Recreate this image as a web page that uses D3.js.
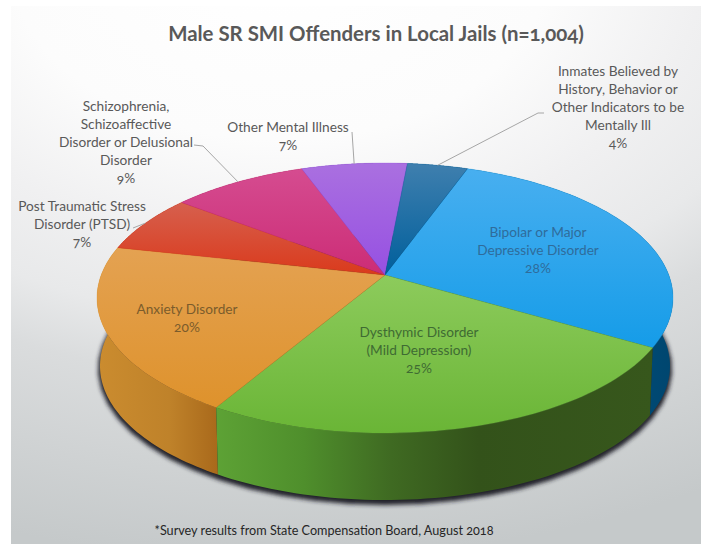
<!DOCTYPE html>
<html>
<head>
<meta charset="utf-8">
<script src="https://cdn.jsdelivr.net/npm/d3@7"></script>
<style>
  html, body { margin: 0; padding: 0; background: #fff; }
  svg { display: block; }
  text { font-family: Lato, "Open Sans", sans-serif; font-feature-settings: "onum" 1; }
</style>
</head>
<body>
<div id="chart"></div>
<script>
// Survey shares, clockwise from the first slice
const categories = [
  "Bipolar or Major Depressive Disorder",
  "Dysthymic Disorder (Mild Depression)",
  "Anxiety Disorder",
  "Post Traumatic Stress Disorder (PTSD)",
  "Schizophrenia, Schizoaffective Disorder or Delusional Disorder",
  "Other Mental Illness",
  "Inmates Believed by History, Behavior or Other Indicators to be Mentally Ill"
];
const shares = [28, 25, 20, 7, 9, 7, 4];

// Wrapped label lines, one entry per slice
const labelLines = [
  ["Bipolar or Major", "Depressive Disorder"],
  ["Dysthymic Disorder", "(Mild Depression)"],
  ["Anxiety Disorder"],
  ["Post Traumatic Stress", "Disorder (PTSD)"],
  ["Schizophrenia,", "Schizoaffective", "Disorder or Delusional", "Disorder"],
  ["Other Mental Illness"],
  ["Inmates Believed by", "History, Behavior or", "Other Indicators to be", "Mentally Ill"]
];
const titleText = "Male SR SMI Offenders in Local Jails (n=1,004)";
const footnoteText = "*Survey results from State Compensation Board, August 2018";

// Slice paint: top-face gradient ends, rim gradient stops, label colour
const faceTop = ["#48aff0", "#8dcb5c", "#e4a252", "#d6604e", "#d54c90", "#aa70e0", "#3f7fae"];
const faceBottom = ["#159ce8", "#6ab536", "#de922c", "#da3a1c", "#cc2c76", "#9650e2", "#005f9c"];
const rimStops = [
  [[0, "#005d90"], [1, "#00466f"]],
  [[0, "#5da235"], [0.2, "#4f8f2c"], [0.4, "#3f6a22"], [0.6, "#33521a"], [1, "#37571c"]],
  [[0, "#cb8c2f"], [0.6, "#bf822a"], [1, "#a9691b"]],
  [[0, "#a83018"], [1, "#a83018"]],
  [[0, "#9a2258"], [1, "#9a2258"]],
  [[0, "#7038a8"], [1, "#7038a8"]],
  [[0, "#004a78"], [1, "#004a78"]]
];
const labelInk = ["#2f6c9b", "#3f6b33", "#7b5c2c", "#595959", "#595959", "#595959", "#595959"];

const width = 701, height = 544;

// Pie outline on screen and how far the apex sits above the ellipse centre
const pieCx = 385, topCy = 298, pieRx = 288, pieRy = 135, apexLift = 23;
const baseCy = 366, baseRx = 285, baseRy = 134;
const tilt = -apexLift / pieRy;
const firstAngle = 19.7 * Math.PI / 180;

// Perspective projection of a disc point at clockwise angle a
function project(a, cy, rx, ry) {
  const u = Math.sin(a), v = -Math.cos(a);
  const lift = apexLift * ry / pieRy;
  const den = 1 + tilt * v;
  return [
    pieCx + rx * Math.sqrt(1 - tilt * tilt) * u / den,
    cy + (ry * v - lift) / den
  ];
}
const topPoint = a => project(a, topCy, pieRx, pieRy);
const basePoint = a => project(a, baseCy, baseRx, baseRy);
const apex = [pieCx, topCy - apexLift];

const slices = d3.pie().value(d => d).sort(null)
  .startAngle(firstAngle).endAngle(firstAngle + 2 * Math.PI)(shares);

const arcSteps = (s, e) => d3.range(0, 61).map(i => s + (e - s) * i / 60);
const line = d3.line();

const svg = d3.select("#chart").append("svg")
  .attr("width", width).attr("height", height);
const defs = svg.append("defs");

// Backdrop panel: bright near the top, wider than tall
const backdrop = defs.append("radialGradient").attr("id", "backdrop")
  .attr("gradientUnits", "userSpaceOnUse")
  .attr("cx", 0).attr("cy", 0).attr("r", 1)
  .attr("gradientTransform", "translate(280,-40) scale(900,600)");
[[0, "#ffffff"], [0.3, "#fcfcfc"], [0.47, "#f0f0f1"], [0.6, "#e8e9ea"], [0.7, "#dadcdd"], [1, "#c5c9ca"]]
  .forEach(([o, c]) => backdrop.append("stop").attr("offset", o).attr("stop-color", c));
svg.append("rect").attr("x", 11).attr("y", 6)
  .attr("width", width - 11).attr("height", height - 6)
  .attr("fill", "url(#backdrop)");

defs.append("filter").attr("id", "soft")
  .attr("x", "-10%").attr("y", "-10%").attr("width", "120%").attr("height", "120%")
  .append("feGaussianBlur").attr("stdDeviation", 2.2);

slices.forEach((s, i) => {
  const face = defs.append("linearGradient").attr("id", `face${i}`)
    .attr("x1", 0).attr("y1", 0).attr("x2", 0).attr("y2", 1);
  face.append("stop").attr("offset", 0).attr("stop-color", faceTop[i]);
  face.append("stop").attr("offset", 1).attr("stop-color", faceBottom[i]);
  const rim = defs.append("linearGradient").attr("id", `rim${i}`)
    .attr("x1", 0).attr("y1", 0).attr("x2", 1).attr("y2", 0);
  rimStops[i].forEach(([o, c]) => rim.append("stop").attr("offset", o).attr("stop-color", c));
});

// Soft cast shadow under the disc
svg.append("path")
  .attr("d", line(arcSteps(0, 2 * Math.PI).map(a => basePoint(a))) + "Z")
  .attr("transform", "translate(0,3)")
  .attr("fill", "#23232b")
  .attr("stroke", "#23232b").attr("stroke-width", 4)
  .attr("filter", "url(#soft)");

// Rim pieces, back to front so the near slices end on top
const rimOrder = [6, 5, 4, 3, 0, 2, 1];
svg.append("g").selectAll("path").data(rimOrder).join("path")
  .attr("d", i => {
    const pts = arcSteps(slices[i].startAngle, slices[i].endAngle);
    return line(pts.map(topPoint).concat(pts.slice().reverse().map(basePoint))) + "Z";
  })
  .attr("fill", i => `url(#rim${i})`);

// Top face
svg.append("g").selectAll("path").data(slices).join("path")
  .attr("d", s => line([apex].concat(arcSteps(s.startAngle, s.endAngle).map(topPoint))) + "Z")
  .attr("fill", (s, i) => `url(#face${i})`)
  .attr("stroke", (s, i) => faceBottom[i]).attr("stroke-width", 0.3);

// Leader lines from the outside labels to the slice rims
const leaderElbows = [
  { slice: 3, from: [[133, 228]] },
  { slice: 4, from: [[194, 145], [203, 146]] },
  { slice: 5, from: [[352, 132]] },
  { slice: 6, from: [[544, 113], [538, 113]] }
];
svg.append("g").selectAll("path").data(leaderElbows).join("path")
  .attr("d", d => {
    const s = slices[d.slice];
    return line(d.from.concat([topPoint((s.startAngle + s.endAngle) / 2)]));
  })
  .attr("fill", "none").attr("stroke", "#a6a6a6").attr("stroke-width", 1);

svg.append("text").attr("x", 376).attr("y", 41)
  .attr("text-anchor", "middle")
  .attr("font-size", 20.4).attr("font-weight", 700).attr("fill", "#595959")
  .text(titleText);

// Category labels with their percentage on the last line
const labelAnchors = [
  [538, 237], [419, 337], [187, 314], [82, 211], [126, 111], [288, 132], [618, 76]
];
const labelStep = 18;
const labels = svg.append("g").attr("font-size", 13.7).attr("text-anchor", "middle");
labelLines.forEach((rows, i) => {
  rows.concat([`${shares[i]}%`]).forEach((row, r) => {
    labels.append("text")
      .attr("x", labelAnchors[i][0])
      .attr("y", labelAnchors[i][1] + r * labelStep)
      .attr("fill", labelInk[i])
      .text(row);
  });
});

svg.append("text").attr("x", 324).attr("y", 535)
  .attr("text-anchor", "middle")
  .attr("font-size", 12.65).attr("fill", "#262626")
  .text(footnoteText);
</script>
</body>
</html>
